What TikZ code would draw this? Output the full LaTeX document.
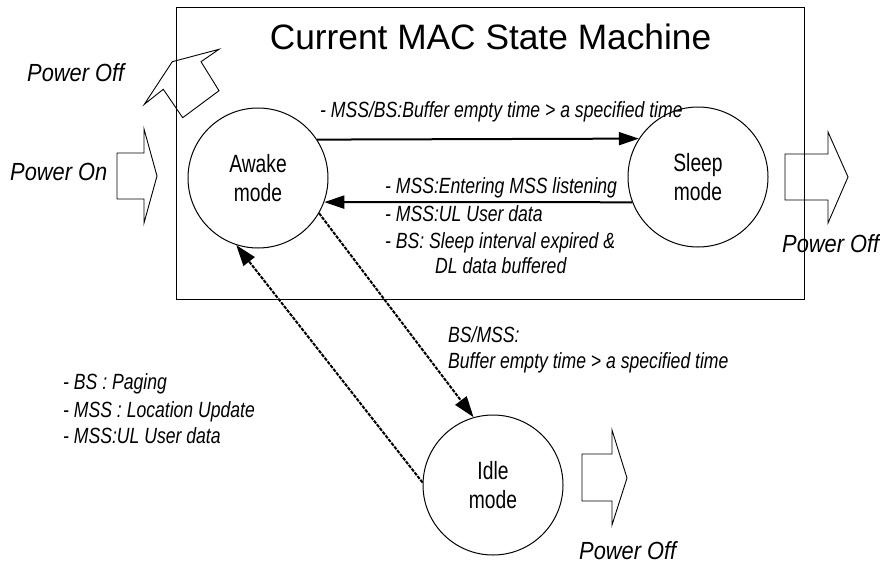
\documentclass[tikz,border=0pt]{standalone}
\usepackage{fontspec}
\setmainfont{Liberation Sans}
\newfontfamily\narstate[FakeStretch=0.77]{Liberation Sans}
\newfontfamily\narlbl[FakeStretch=0.80]{Liberation Sans}
\newfontfamily\narpwr[FakeStretch=0.88]{Liberation Sans}
\usetikzlibrary{arrows.meta}
\tikzset{
  state/.style={circle,draw,line width=1pt,minimum size=140pt,inner sep=0pt,align=center,
    font=\narstate\fontsize{25}{29.5}\selectfont},
  lbl/.style={anchor=base west,inner sep=0pt,font=\narlbl\itshape\fontsize{22}{26}\selectfont},
  pwr/.style={anchor=base west,inner sep=0pt,font=\narpwr\itshape\fontsize{24.8}{30}\selectfont},
  solidarr/.style={line width=2pt,-{Triangle[length=20pt,width=13pt]}},
  dasharr/.style={line width=2pt,dash pattern=on 3.5pt off 1.2pt,-{Triangle[length=21pt,width=14pt]}},
  blockarr/.style={draw,line width=0.9pt,line join=miter},
}
\begin{document}
\begin{tikzpicture}[x=1pt,y=-1pt]
\useasboundingbox (0,0) rectangle (880,565);
% frame
\draw[line width=1pt] (176,7) rectangle (804,299);
\node[anchor=base,inner sep=0pt,font=\fontsize{35.3}{40}\selectfont] (title) at (490.5,49) {Current MAC State Machine};
% states
\node[state] (awake) at (258,178) {Awake\\mode};
\node[state] (sleep) at (698,177) {Sleep\\mode};
\node[state] (idle) at (493,485) {Idle\\mode};
% connectors
\draw[solidarr] (awake.33.9) -- (sleep.147.1);
\draw[solidarr] (sleep.-159.1) -- (awake.-20);
\draw[dasharr] (awake.-30.3) -- (idle.106.3);
\draw[dasharr] (idle.178) -- (awake.-108);
% block arrows
\draw[blockarr] (117,153) -- (144,153) -- (144,129) -- (157,176) -- (144,223) -- (144,199) -- (117,199) -- cycle;
\draw[blockarr] (785,154) -- (828,154) -- (828,132) -- (848,177) -- (828,223) -- (828,200) -- (785,200) -- cycle;
\draw[blockarr] (582,454) -- (612,454) -- (612,430) -- (627,478) -- (612,525) -- (612,501) -- (582,501) -- cycle;
\draw[blockarr] (172.3,61.7) -- (144.3,104.3) -- (163.3,89.3) -- (182.7,117.7) -- (219,90.7) -- (201,61.7) -- (219,49.3) -- cycle;
% power labels
\node[pwr] (poff1) at (27,81) {Power Off};
\node[pwr] (pon) at (10,180) {Power On};
\node[pwr] (poff2) at (782,252) {Power Off};
\node[pwr] (poff3) at (579,559) {Power Off};
% transition labels
\node[lbl] (t1) at (320,117) {- MSS/BS:Buffer empty time > a specified time};
\node[lbl] (t2a) at (385,193) {- MSS:Entering MSS listening};
\node[lbl] (t2b) at (385,221) {- MSS:UL User data};
\node[lbl] (t2c) at (385,248) {- BS: Sleep interval expired \&};
\node[lbl] (t2d) at (435,273) {DL data buffered};
\node[lbl] (t3a) at (448,342) {BS/MSS:};
\node[lbl] (t3b) at (448,368) {Buffer empty time > a specified time};
\node[lbl] (t4a) at (63,389) {- BS : Paging};
\node[lbl] (t4b) at (63,417) {- MSS : Location Update};
\node[lbl] (t4c) at (63,443) {- MSS:UL User data};
\end{tikzpicture}
\end{document}
